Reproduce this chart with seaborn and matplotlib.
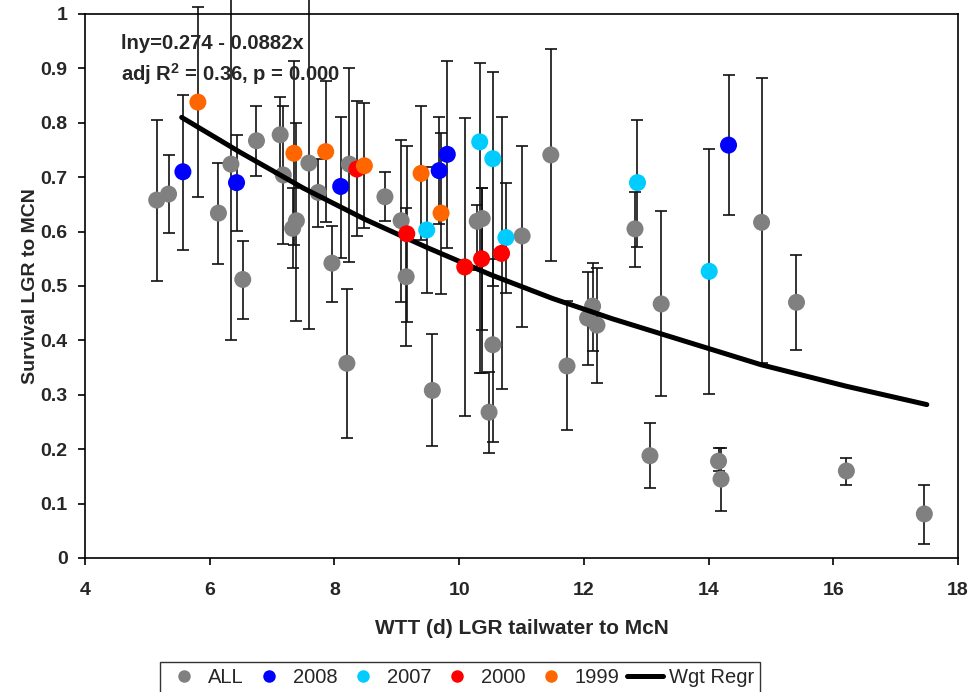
import numpy as np
import pandas as pd
import matplotlib
matplotlib.use("Agg")
import matplotlib.pyplot as plt
from matplotlib.lines import Line2D
import seaborn as sns

# ---------------- data ----------------
# ALL (gray) points: x, y, lower and upper error limits
all_x  = [5.15, 5.34, 6.14, 6.34, 6.53, 6.75, 7.13, 7.18, 7.39, 7.33, 7.59, 7.74, 7.96,
          8.24, 8.20, 8.81, 9.07, 9.15, 9.57, 10.29, 10.37, 10.54, 10.48, 11.01, 11.47,
          11.73, 12.06, 12.14, 12.21, 12.82, 13.06, 13.24, 14.16, 14.20, 14.85, 15.41,
          16.21, 17.46]
all_y  = [0.658, 0.669, 0.634, 0.724, 0.512, 0.767, 0.778, 0.704, 0.620, 0.606, 0.726, 0.672, 0.542,
          0.724, 0.358, 0.664, 0.620, 0.517, 0.308, 0.619, 0.624, 0.392, 0.268, 0.592, 0.741,
          0.353, 0.441, 0.463, 0.428, 0.605, 0.188, 0.467, 0.178, 0.145, 0.617, 0.470,
          0.160, 0.081]
all_lo = [0.509, 0.597, 0.540, 0.401, 0.440, 0.703, 0.705, 0.577, 0.436, 0.534, 0.421, 0.608, 0.471,
          0.545, 0.221, 0.620, 0.471, 0.390, 0.205, 0.530, 0.419, 0.213, 0.193, 0.425, 0.546,
          0.235, 0.355, 0.381, 0.322, 0.535, 0.129, 0.297, 0.160, 0.087, 0.358, 0.383,
          0.135, 0.026]
all_hi = [0.805, 0.740, 0.727, 1.05, 0.583, 0.830, 0.848, 0.831, 0.800, 0.680, 1.05, 0.733, 0.611,
          0.901, 0.494, 0.709, 0.768, 0.643, 0.412, 0.649, 0.680, 0.550, 0.342, 0.758, 0.936,
          0.473, 0.526, 0.543, 0.534, 0.673, 0.248, 0.638, 0.202, 0.202, 0.882, 0.557,
          0.184, 0.134]

y2008_x  = [5.57, 6.43, 8.10, 9.68, 9.81, 14.32]
y2008_y  = [0.710, 0.690, 0.683, 0.712, 0.742, 0.759]
y2008_lo = [0.566, 0.601, 0.552, 0.614, 0.569, 0.631]
y2008_hi = [0.852, 0.778, 0.811, 0.811, 0.914, 0.888]

y2007_x  = [9.48, 10.33, 10.54, 10.75, 12.86, 14.01]
y2007_y  = [0.603, 0.765, 0.734, 0.589, 0.690, 0.527]
y2007_lo = [0.487, 0.340, 0.500, 0.487, 0.572, 0.302]
y2007_hi = [0.719, 0.910, 0.893, 0.689, 0.806, 0.752]

y2000_x  = [8.36, 9.16, 10.09, 10.36, 10.68]
y2000_y  = [0.715, 0.596, 0.535, 0.550, 0.560]
y2000_lo = [0.592, 0.433, 0.261, 0.340, 0.310]
y2000_hi = [0.840, 0.758, 0.809, 0.681, 0.810]

y1999_x  = [5.81, 7.35, 7.86, 8.48, 9.39, 9.71]
y1999_y  = [0.838, 0.744, 0.747, 0.721, 0.707, 0.634]
y1999_lo = [0.664, 0.575, 0.618, 0.607, 0.585, 0.485]
y1999_hi = [1.013, 0.914, 0.876, 0.836, 0.830, 0.781]

# weighted regression line vertices (as drawn)
reg_x = [5.55, 6.5, 7.5, 8.5, 9.5, 10.5, 11.5, 12.45, 14.85, 16.2, 17.5]
reg_y = [0.810, 0.745, 0.680, 0.622, 0.570, 0.521, 0.477, 0.440, 0.355, 0.316, 0.282]

x_ticks = [4, 6, 8, 10, 12, 14, 16, 18]
y_ticks = [0, 0.1, 0.2, 0.3, 0.4, 0.5, 0.6, 0.7, 0.8, 0.9, 1]

eq_text = "lny=0.274 - 0.0882x"
r2_text = "adj R$^{2}$ = 0.36, p = 0.000"

# ---------------- figure ----------------
sns.set_style("white")
plt.rcParams["font.family"] = ["Liberation Sans", "DejaVu Sans"]
plt.rcParams["mathtext.fontset"] = "custom"
plt.rcParams["mathtext.rm"] = "Liberation Sans:bold"
plt.rcParams["mathtext.bf"] = "Liberation Sans:bold"

fig = plt.figure(figsize=(9.7, 6.92), dpi=100)
ax = fig.add_axes([85/970, 1-558/692, (958-85)/970, (558-14)/692])

series = [
    ("ALL",  all_x, all_y, all_lo, all_hi, "#808080"),
    ("2008", y2008_x, y2008_y, y2008_lo, y2008_hi, "#0000FF"),
    ("2007", y2007_x, y2007_y, y2007_lo, y2007_hi, "#00CCFF"),
    ("2000", y2000_x, y2000_y, y2000_lo, y2000_hi, "#FF0000"),
    ("1999", y1999_x, y1999_y, y1999_lo, y1999_hi, "#FF6600"),
]

frames = []
for name, xs, ys, lo, hi, col in series:
    frames.append(pd.DataFrame({"x": xs, "y": ys, "lo": lo, "hi": hi, "grp": name}))
df = pd.concat(frames, ignore_index=True)

# error bars
yerr = np.vstack([df["y"] - df["lo"], df["hi"] - df["y"]])
cont = ax.errorbar(df["x"], df["y"], yerr=yerr, fmt="none", ecolor="#111111",
                   elinewidth=1.2, capsize=4, capthick=1.2, zorder=2)
for art in list(cont.lines[1]) + list(cont.lines[2]):
    art.set_clip_on(False)

palette = {name: col for name, _, _, _, _, col in series}

# gray points
sns.scatterplot(data=df[df["grp"] == "ALL"], x="x", y="y", color=palette["ALL"],
                s=150, edgecolor="none", ax=ax, zorder=3, legend=False)
# regression line
reg_df = pd.DataFrame({"x": reg_x, "y": reg_y})
sns.lineplot(data=reg_df, x="x", y="y", sort=False, color="black", lw=3.6,
             ax=ax, zorder=4, legend=False)
# year points
sns.scatterplot(data=df[df["grp"] != "ALL"], x="x", y="y", hue="grp",
                palette=palette, s=150, edgecolor="none", ax=ax, zorder=5, legend=False)

ax.set_xlim(4, 18)
ax.set_ylim(0, 1)
ax.set_xticks(x_ticks)
ax.set_yticks(y_ticks)
ax.set_xticklabels([f"{t:g}" for t in x_ticks])
ax.set_yticklabels([f"{t:g}" for t in y_ticks])
ax.tick_params(axis="both", direction="out", length=5, width=1.2, color="black",
               labelsize=14, left=True, bottom=True)
ax.tick_params(axis="x", pad=12.5)
ax.tick_params(axis="y", pad=7.5)
for lab in ax.get_xticklabels() + ax.get_yticklabels():
    lab.set_fontweight("bold")
for sp in ax.spines.values():
    sp.set_visible(True)
    sp.set_color("black")
    sp.set_linewidth(1.2)

ax.set_xlabel("WTT (d) LGR tailwater to McN", fontsize=15, fontweight="bold", labelpad=14)
ax.set_ylabel("Survival LGR to MCN", fontsize=14, fontweight="bold", labelpad=1)

ax.text(0.041, 0.945, eq_text, transform=ax.transAxes, fontsize=14.6,
        fontweight="bold", ha="left", va="center")
ax.text(0.041, 0.89, r2_text, transform=ax.transAxes, fontsize=14.6,
        fontweight="bold", ha="left", va="center")

# legend
handles = [Line2D([], [], ls="none", marker="o", markersize=9,
                  markerfacecolor=col, markeredgecolor="none")
           for _, _, _, _, _, col in series]
handles.append(Line2D([], [], color="black", lw=3.6))
labels = [s[0] for s in series] + ["Wgt Regr"]
leg = fig.legend(handles, labels, loc="upper left", ncol=6,
                 bbox_to_anchor=(160/970, 1-662/692), frameon=True, fancybox=False,
                 fontsize=14.5, handlelength=1.8, handletextpad=0.3, columnspacing=0.35,
                 borderpad=0.3, borderaxespad=0)
leg.get_frame().set_edgecolor("black")
leg.get_frame().set_linewidth(1.0)

fig.savefig("out.png", dpi=100)
